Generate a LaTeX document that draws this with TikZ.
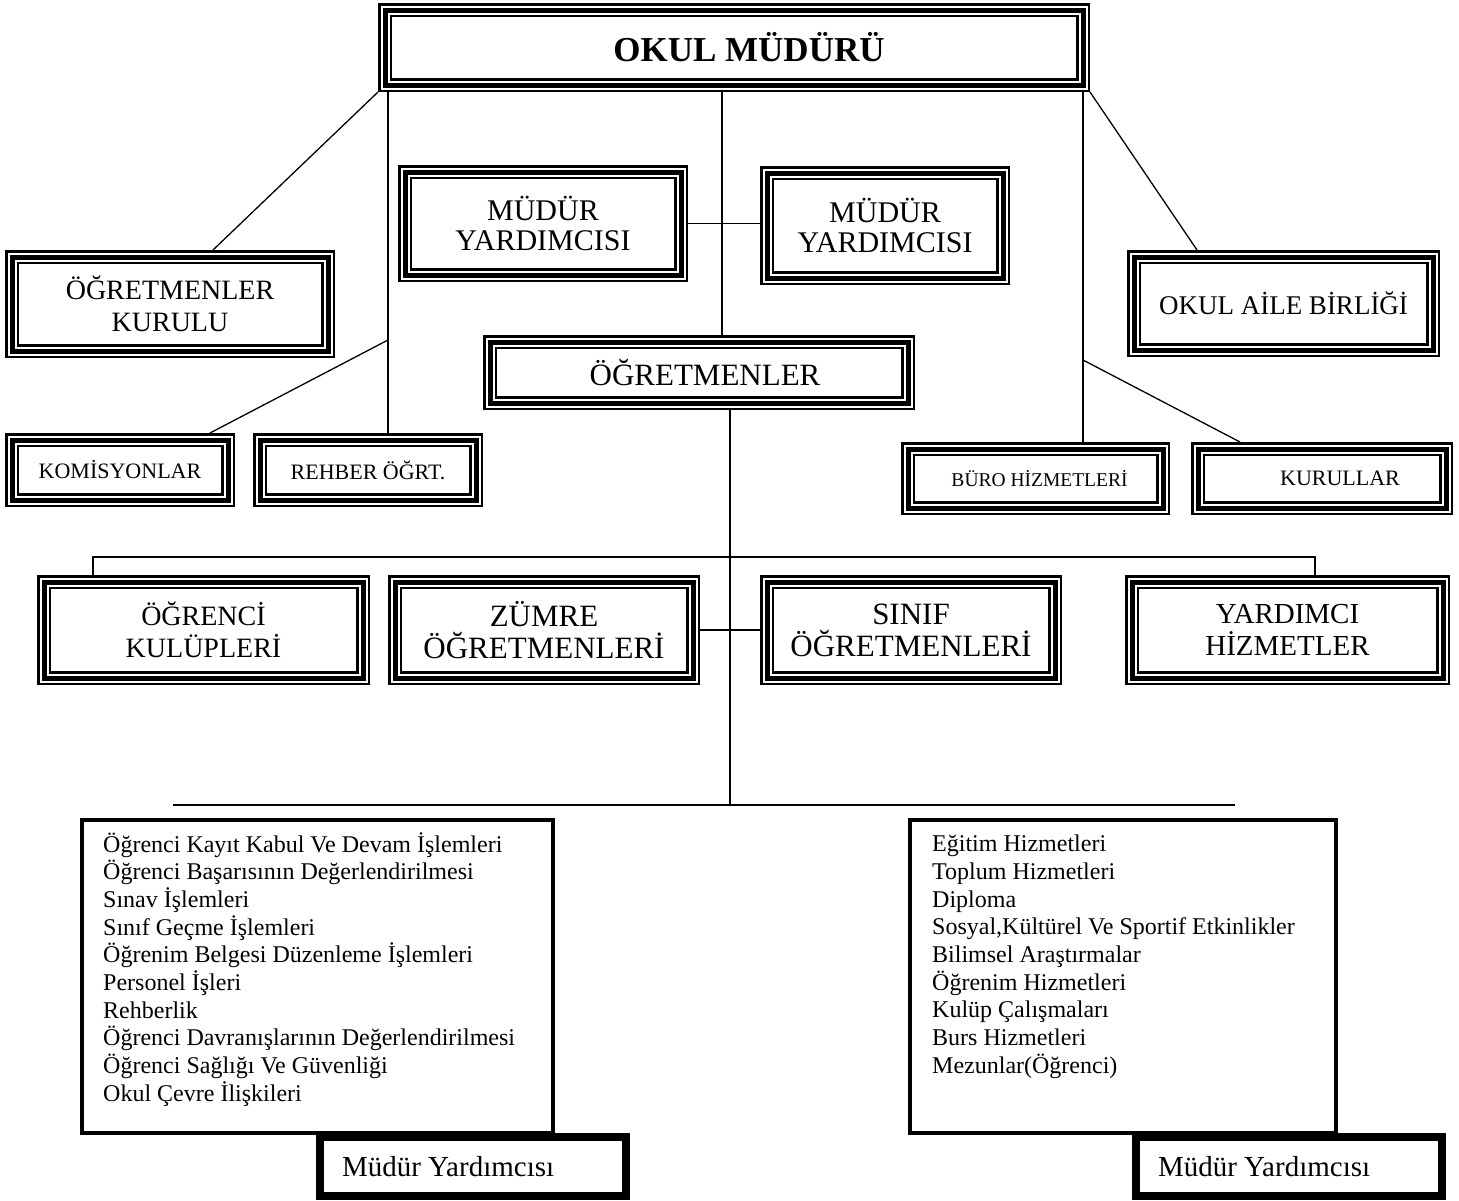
\documentclass[tikz,border=0pt]{standalone}
\usepackage{fontspec}
\setmainfont{Liberation Serif}

\tikzset{
	tribox/.style={rectangle, align=center, inner sep=0pt, outer sep=7pt,
		preaction={draw, line width=14pt},
		preaction={draw=white, line width=9pt},
		draw, line width=5pt},
	toptext/.style={font=\fontsize{35}{40}\selectfont\bfseries},
	bigtext/.style={font=\fontsize{28}{32}\selectfont},
	mytext/.style={font=\fontsize{30}{30}\selectfont},
	widetext/.style={font=\fontsize{31}{32}\selectfont},
	midtext/.style={font=\fontsize{22}{25}\selectfont},
	smalltext/.style={font=\fontsize{19.5}{22}\selectfont},
	listbox/.style={rectangle, draw, line width=4.5pt, outer sep=2.25pt},
	listtext/.style={align=left, inner sep=0pt, anchor=north west,
		font=\fontsize{24}{27.7}\selectfont},
	tagbox/.style={rectangle, draw, fill=white, line width=7.5pt,
		inner xsep=22pt, minimum height=59pt,
		font=\fontsize{29}{32}\selectfont},
	link/.style={line width=1.3pt}
}

\begin{document}
\begin{tikzpicture}[x=1pt, y=-1pt]
	\useasboundingbox (0,0) rectangle (1459,1200);

	% boxes
	\node[tribox, toptext, minimum width=698pt, minimum height=75pt] (mudur) at (734,47.5) {\hspace*{30pt}OKUL MÜDÜRÜ};
	\node[tribox, mytext, minimum width=276pt, minimum height=103pt] (myl) at (543,223.5) {MÜDÜR\\YARDIMCISI};
	\node[tribox, mytext, minimum width=236pt, minimum height=105pt] (myr) at (885,225.5) {MÜDÜR\\YARDIMCISI};
	\node[tribox, bigtext, minimum width=316pt, minimum height=94pt] (kurulu) at (170,304) {ÖĞRETMENLER\\KURULU};
	\node[tribox, font=\fontsize{27}{32}\selectfont, minimum width=299pt, minimum height=93pt] (aile) at (1283.5,303.5) {OKUL AİLE BİRLİĞİ};
	\node[tribox, widetext, minimum width=418pt, minimum height=61pt] (ogr) at (699,372.5) {\hspace*{12pt}ÖĞRETMENLER};
	\node[tribox, midtext, minimum width=216pt, minimum height=60pt] (komis) at (120,470) {KOMİSYONLAR};
	\node[tribox, midtext, minimum width=216pt, minimum height=60pt] (rehber) at (368,470) {REHBER ÖĞRT.};
	\node[tribox, smalltext, minimum width=255pt, minimum height=59pt] (buro) at (1035.5,478.5) {\hspace*{8pt}BÜRO HİZMETLERİ};
	\node[tribox, midtext, minimum width=248pt, minimum height=59pt] (kurullar) at (1322,478.5) {\hspace*{36pt}KURULLAR};
	\node[tribox, bigtext, minimum width=319pt, minimum height=96pt] (kulup) at (203.5,630) {ÖĞRENCİ\\KULÜPLERİ};
	\node[tribox, widetext, minimum width=298pt, minimum height=96pt] (zumre) at (544,630) {ZÜMRE\\ÖĞRETMENLERİ};
	\node[tribox, widetext, minimum width=288pt, minimum height=96pt] (sinif) at (911,630) {SINIF\\ÖĞRETMENLERİ};
	\node[tribox, font=\fontsize{29}{32}\selectfont, minimum width=311pt, minimum height=96pt] (yard) at (1287.5,630) {YARDIMCI\\HİZMETLER};

	% connector points
	\coordinate (xl) at (388,0);
	\coordinate (xc) at (722,0);
	\coordinate (xr) at (1083,0);
	\coordinate (dl) at (213,0);
	\coordinate (dr) at (1197,0);
	\coordinate (j1) at (388,340);
	\coordinate (j2) at (1083,360);
	\coordinate (dk) at (210,0);
	\coordinate (dkr) at (1240,0);
	\coordinate (xb) at (730,0);
	\coordinate (hl) at (93,557);
	\coordinate (hr) at (1315,557);
	\coordinate (bj) at (730,805);
	\coordinate (bl) at (173,805);
	\coordinate (br) at (1235,805);

	\draw[link] (mudur.south -| xl) -- (rehber.north -| xl);
	\draw[link] (mudur.south -| xc) -- (ogr.north -| xc);
	\draw[link] (mudur.south -| xr) -- (buro.north -| xr);
	\draw[link] (mudur.south west) -- (kurulu.north -| dl);
	\draw[link] (mudur.south east) -- (aile.north -| dr);
	\draw[link] (myl.east) -- (myl.east -| myr.west);
	\draw[link] (j1) -- (komis.north -| dk);
	\draw[link] (j2) -- (kurullar.north -| dkr);
	\draw[link] (ogr.south -| xb) -- (bj);
	\draw[link] (kulup.north -| hl) -- (hl) -- (hr) -- (yard.north -| hr);
	\draw[link] (zumre.east) -- (zumre.east -| sinif.west);
	\draw[link] (bl) -- (br);

	% duty lists
	\node[listbox, minimum width=471pt, minimum height=313pt] (lbox) at (317.5,976.5) {};
	\node[listtext] (ltext) at (103,832) {Öğrenci Kayıt Kabul Ve Devam İşlemleri\\
		Öğrenci Başarısının Değerlendirilmesi\\
		Sınav İşlemleri\\
		Sınıf Geçme İşlemleri\\
		Öğrenim Belgesi Düzenleme İşlemleri\\
		Personel İşleri\\
		Rehberlik\\
		Öğrenci Davranışlarının Değerlendirilmesi\\
		Öğrenci Sağlığı Ve Güvenliği\\
		Okul Çevre İlişkileri};
	\node[tagbox] (ltag) at (473,1166.5) {\makebox[262pt][l]{Müdür Yardımcısı}};

	\node[listbox, minimum width=426pt, minimum height=313pt] (rbox) at (1123,976.5) {};
	\node[listtext] (rtext) at (932,832) {\vphantom{Ö}Eğitim Hizmetleri\\
		Toplum Hizmetleri\\
		Diploma\\
		Sosyal,Kültürel Ve Sportif Etkinlikler\\
		Bilimsel Araştırmalar\\
		Öğrenim Hizmetleri\\
		Kulüp Çalışmaları\\
		Burs Hizmetleri\\
		Mezunlar(Öğrenci)};
	\node[tagbox] (rtag) at (1289,1166.5) {\makebox[262pt][l]{Müdür Yardımcısı}};
\end{tikzpicture}
\end{document}
